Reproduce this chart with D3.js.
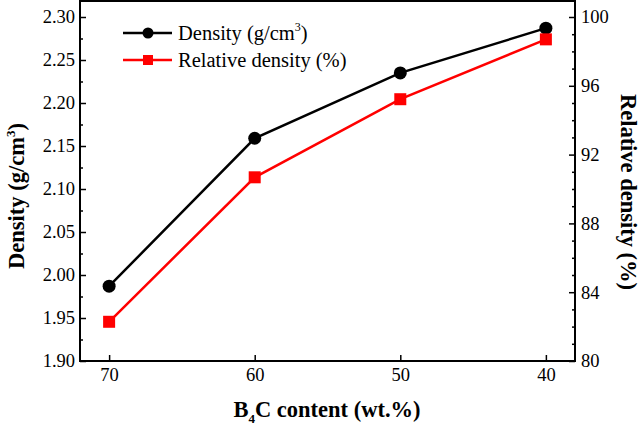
<!DOCTYPE html>
<html>
<head>
<meta charset="utf-8">
<script src="https://cdn.jsdelivr.net/npm/d3@7"></script>
<style>
  body { margin: 0; background: #fff; }
  svg { display: block; }
  .axis path { display: none; }
  .axis line { stroke: #000; stroke-width: 1.5; }
</style>
</head>
<body>
<svg width="640" height="426"></svg>
<script>
// B4C content (wt.%)
var content = [70, 60, 50, 40];
var density = [1.987, 2.159, 2.235, 2.287];       // g/cm3
var relDensity = [82.28, 90.68, 95.22, 98.70];    // %
var leftTicks = [1.90, 1.95, 2.00, 2.05, 2.10, 2.15, 2.20, 2.25, 2.30];
var rightTicks = [80, 84, 88, 92, 96, 100];

var svg = d3.select("svg");
var pLeft = 80, pRight = 575, pTop = 1, pBottom = 361;

var x = d3.scaleLinear().domain([72, 38]).range([pLeft, pRight]);
var yL = d3.scaleLinear().domain([1.90, 2.30]).range([pBottom, 17]);
var yR = d3.scaleLinear().domain([80, 100]).range([pBottom, 17]);

// minor ticks
svg.append("g").attr("class", "axis")
    .attr("transform", "translate(" + pLeft + ",0)")
    .call(d3.axisLeft(yL).tickValues(d3.range(1.925, 2.31, 0.05)).tickSize(-3).tickFormat(""));
svg.append("g").attr("class", "axis")
    .attr("transform", "translate(" + pRight + ",0)")
    .call(d3.axisRight(yR).tickValues(d3.range(81, 101, 1).filter(function(v) { return v % 4 != 0; })).tickSize(-3).tickFormat(""));

// major ticks
svg.append("g").attr("class", "axis")
    .attr("transform", "translate(" + pLeft + ",0)")
    .call(d3.axisLeft(yL).tickValues(leftTicks).tickSize(-6).tickPadding(5).tickFormat(d3.format(".2f")));
svg.append("g").attr("class", "axis")
    .attr("transform", "translate(" + pRight + ",0)")
    .call(d3.axisRight(yR).tickValues(rightTicks).tickSize(-6).tickPadding(6).tickFormat(d3.format("d")));
svg.append("g").attr("class", "axis")
    .attr("transform", "translate(0," + pBottom + ")")
    .call(d3.axisBottom(x).tickValues(content).tickSize(-6).tickPadding(7).tickFormat(d3.format("d")));

svg.selectAll(".axis").attr("font-family", "Liberation Serif");
svg.selectAll(".axis text").style("font-size", "18.5px").attr("fill", "#000");

// frame
svg.append("rect")
    .attr("x", pLeft).attr("y", pTop)
    .attr("width", pRight - pLeft).attr("height", pBottom - pTop)
    .attr("fill", "none").attr("stroke", "#000").attr("stroke-width", 2);

// series
var lineD = d3.line().x(function(d, i) { return x(content[i]); }).y(function(d) { return yL(d); });
var lineR = d3.line().x(function(d, i) { return x(content[i]); }).y(function(d) { return yR(d); });

svg.append("path").attr("d", lineD(density))
    .attr("fill", "none").attr("stroke", "#000").attr("stroke-width", 2.5);
svg.append("path").attr("d", lineR(relDensity))
    .attr("fill", "none").attr("stroke", "#ff0000").attr("stroke-width", 2.5);

svg.selectAll(".dot").data(density).enter().append("circle")
    .attr("cx", function(d, i) { return x(content[i]); })
    .attr("cy", function(d) { return yL(d); })
    .attr("r", 6.5).attr("fill", "#000");
svg.selectAll(".sq").data(relDensity).enter().append("rect")
    .attr("x", function(d, i) { return x(content[i]) - 6; })
    .attr("y", function(d) { return yR(d) - 6; })
    .attr("width", 12).attr("height", 12).attr("fill", "#ff0000");

// legend
var lg = svg.append("g");
lg.append("line").attr("x1", 123).attr("x2", 172).attr("y1", 33).attr("y2", 33)
    .attr("stroke", "#000").attr("stroke-width", 2.5);
lg.append("circle").attr("cx", 148).attr("cy", 33).attr("r", 5.5).attr("fill", "#000");
var t1 = lg.append("text").attr("x", 178).attr("y", 40).style("font-size", "20.5px");
t1.append("tspan").text("Density (g/cm");
t1.append("tspan").attr("dy", -9).style("font-size", "12px").text("3");
t1.append("tspan").attr("dy", 9).text(")");

lg.append("line").attr("x1", 123).attr("x2", 172).attr("y1", 60).attr("y2", 60)
    .attr("stroke", "#ff0000").attr("stroke-width", 2.5);
lg.append("rect").attr("x", 143).attr("y", 55).attr("width", 10).attr("height", 10).attr("fill", "#ff0000");
lg.append("text").attr("x", 178).attr("y", 67).style("font-size", "20.5px").text("Relative density (%)");

// axis titles
var tl = svg.append("text")
    .attr("transform", "translate(24,196) rotate(-90)")
    .attr("text-anchor", "middle")
    .style("font-size", "22.5px").style("font-weight", "bold");
tl.append("tspan").text("Density (g/cm");
tl.append("tspan").attr("dy", -9).style("font-size", "13px").text("3");
tl.append("tspan").attr("dy", 9).text(")");

svg.append("text")
    .attr("transform", "translate(621,192) rotate(90)")
    .attr("text-anchor", "middle")
    .style("font-size", "22.5px").style("font-weight", "bold")
    .text("Relative density (%)");

var tx = svg.append("text")
    .attr("x", 327).attr("y", 417).attr("text-anchor", "middle")
    .style("font-size", "22.5px").style("font-weight", "bold");
tx.append("tspan").text("B");
tx.append("tspan").attr("dy", 6).style("font-size", "13px").text("4");
tx.append("tspan").attr("dy", -6).text("C content (wt.%)");

svg.selectAll("text").style("font-family", "Liberation Serif");
</script>
</body>
</html>
